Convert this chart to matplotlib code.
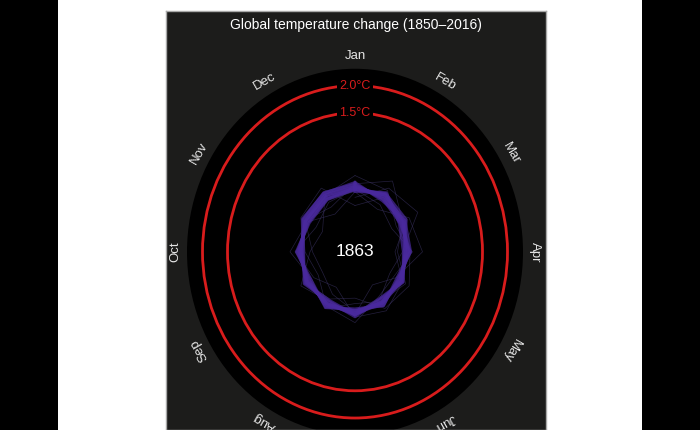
import numpy as np
import matplotlib
matplotlib.use("Agg")
import matplotlib.pyplot as plt
from matplotlib.patches import Circle, Rectangle

plt.rcParams['font.family'] = ['Liberation Sans', 'DejaVu Sans']

months = ['Jan', 'Feb', 'Mar', 'Apr', 'May', 'Jun',
          'Jul', 'Aug', 'Sep', 'Oct', 'Nov', 'Dec']
years = list(range(1850, 1864))
currentYear = 1863
title = 'Global temperature change (1850\u20132016)'

# monthly anomalies (degC, rel. 1850-1900)
anom1850 = [-0.05, 0.30, 0.40, -0.10, -0.25, -0.05, 0.05, -0.15, -0.30, -0.20, 0.10, -0.10]
anom1851 = [0.20, 0.45, 0.05, -0.20, 0.12, 0.00, -0.10, 0.15, -0.05, 0.25, 0.05, -0.25]
anom1852 = [0.05, -0.15, 0.20, 0.30, -0.10, -0.35, 0.10, 0.00, 0.20, -0.15, -0.30, 0.15]
anom1853 = [0.35, 0.25, -0.10, 0.05, 0.20, 0.15, -0.20, -0.05, 0.10, 0.00, 0.20, 0.30]
anom1854 = [-0.20, 0.10, 0.15, -0.25, 0.05, 0.20, 0.15, -0.30, -0.10, 0.15, -0.15, 0.00]
anom1855 = [0.10, -0.05, -0.20, 0.10, -0.15, -0.10, 0.25, 0.10, -0.20, -0.05, 0.15, 0.05]
anom1856 = [0.06, 0.20, -0.02, -0.08, 0.06, -0.04, 0.14, 0.00, 0.12, -0.02, 0.16, 0.19]
anom1857 = [0.22, 0.04, 0.10, 0.06, -0.08, 0.09, 0.00, 0.13, -0.03, 0.12, 0.01, 0.06]
anom1858 = [0.10, 0.18, 0.13, -0.06, 0.05, -0.06, 0.11, -0.02, 0.10, 0.00, 0.14, 0.20]
anom1859 = [0.19, 0.07, 0.00, 0.05, -0.05, 0.08, 0.03, 0.11, 0.00, 0.10, 0.03, 0.07]
anom1860 = [0.13, 0.15, 0.08, -0.04, 0.02, 0.01, 0.10, 0.05, 0.07, 0.03, 0.10, 0.14]
anom1861 = [0.16, 0.10, 0.03, 0.02, -0.02, 0.03, 0.04, 0.08, 0.03, 0.07, 0.06, 0.10]
anom1862 = [0.09, 0.16, 0.06, -0.02, 0.03, 0.04, 0.09, 0.06, 0.05, 0.04, 0.09, 0.15]
anom1863 = [0.14, 0.12, 0.05, 0.00, -0.01, 0.02, 0.07, 0.05, 0.06, 0.05, 0.09, 0.12]

allAnoms = [anom1850, anom1851, anom1852, anom1853, anom1854, anom1855, anom1856,
            anom1857, anom1858, anom1859, anom1860, anom1861, anom1862, anom1863]
thinYears = [1850, 1851, 1852, 1853, 1854, 1855]

limits = [1.5, 2.0]
limitLabels = ['1.5\u00b0C', '2.0\u00b0C']

OFFSET = 1.05      # radius = anomaly + OFFSET
OUTER = 3.36
LABEL_R = 3.6


def toXY(r, monthIdx):
    theta = 2 * np.pi * np.asarray(monthIdx) / 12.0
    return r * np.sin(theta), r * np.cos(theta)


fig = plt.figure(figsize=(7, 4.3), dpi=100, facecolor='black')
fig.add_artist(Rectangle((58 / 700, 0), (642 - 58) / 700, 1, transform=fig.transFigure,
                         facecolor='white', edgecolor='none', zorder=-10))

ax = fig.add_axes([166 / 700, 0, 380 / 700, 419 / 430])
ax.set_facecolor('#1c1c1b')
for s in ax.spines.values():
    s.set_color('#a8a8a8')
    s.set_linewidth(1)
ax.set_xticks([])
ax.set_yticks([])
ax.set_xlim(-3.78, 3.82)
ax.set_ylim(-3.27, 4.42)

ax.add_patch(Circle((0, 0), OUTER, facecolor='black', edgecolor='none', zorder=1))

for lim, lab in zip(limits, limitLabels):
    ax.add_patch(Circle((0, 0), lim + OFFSET, fill=False, edgecolor='#d81c1c',
                        linewidth=2, zorder=2))
    ax.text(0, lim + OFFSET, lab, color='#d81c1c', fontsize=9, ha='center', va='center',
            zorder=3, bbox=dict(facecolor='black', edgecolor='none', pad=1.5))

# spiral: one continuous line, each year drawn through Jan of the next
for i, yr in enumerate(years):
    vals = list(allAnoms[i])
    idx = list(range(12))
    if i + 1 < len(years):
        vals.append(allAnoms[i + 1][0])
        idx.append(12)
    x, y = toXY(np.array(vals) + OFFSET, idx)
    if yr in thinYears:
        ax.plot(x, y, color='#3c3466', linewidth=0.5, alpha=0.6, zorder=4)
    else:
        ax.plot(x, y, color='#4a2a9e', linewidth=2.3, alpha=0.7, zorder=5)

for i, m in enumerate(months):
    x, y = toXY(LABEL_R, i)
    ax.text(x, y, m, color='#e6e6e6', fontsize=9.5, ha='center', va='center',
            rotation=-30 * i, rotation_mode='anchor', zorder=6)

ax.text(0, 0, str(currentYear), color='white', fontsize=12.5, ha='center', va='center', zorder=7)
ax.text(0.5, 1 - 14 / 419, title, color='white', fontsize=10, ha='center', va='center',
        transform=ax.transAxes)

fig.savefig('out.png', dpi=100, facecolor=fig.get_facecolor())
